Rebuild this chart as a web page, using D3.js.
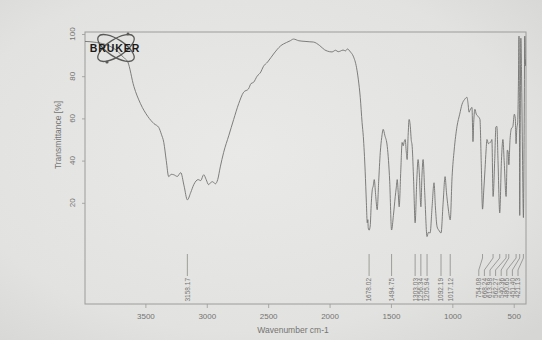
<!DOCTYPE html>
<html>
<head>
<meta charset="utf-8">
<script src="https://cdn.jsdelivr.net/npm/d3@7"></script>
<style>
  body { margin: 0; background: #e2e2e0; }
  svg { display: block; }
  text { font-family: "Liberation Sans", Arial, sans-serif; }
</style>
</head>
<body>
<script>
// spectrum (wavenumber cm-1, transmittance %)
const wavenumbers = [4000, 3900, 3800, 3720, 3680, 3643, 3594, 3540, 3480, 3430, 3391, 3370, 3350, 3330, 3310, 3290, 3269, 3240, 3212, 3185, 3158, 3130, 3106, 3070, 3050, 3025, 3005, 2985, 2970, 2952, 2930, 2911, 2890, 2863, 2820, 2781, 2740, 2700, 2660, 2640, 2619, 2590, 2560, 2540, 2505, 2450, 2400, 2350, 2320, 2294, 2250, 2200, 2160, 2132, 2080, 2040, 2018, 1980, 1950, 1930, 1912, 1890, 1870, 1855, 1830, 1807, 1780, 1766, 1750, 1735, 1725, 1710, 1700, 1693, 1688, 1685, 1678, 1669, 1660, 1652, 1644, 1636, 1625, 1612, 1600, 1587, 1575, 1563, 1550, 1530, 1510, 1495, 1480, 1465, 1457, 1449, 1440, 1433, 1420, 1409, 1400, 1392, 1384, 1375, 1368, 1360, 1352, 1342, 1335, 1327, 1315, 1303, 1290, 1279, 1270, 1256, 1248, 1238, 1225, 1206, 1195, 1181, 1165, 1149, 1138, 1124, 1110, 1092, 1075, 1059, 1048, 1035, 1017, 1002, 985, 962, 940, 921, 900, 881, 872, 864, 855, 840, 835, 832, 826, 816, 805, 791, 775, 765, 754, 744, 734, 725, 718, 706, 694, 685, 678, 668, 655, 645, 637, 628, 614, 600, 588, 578, 562, 552, 545, 540, 530, 520, 507, 495, 487, 481, 475, 468, 462, 457, 454, 451, 447, 442, 436, 429, 421, 415, 410, 405, 400];
const transmittance = [96.5, 96, 94.5, 91.5, 89, 86.7, 75.2, 67, 60.9, 57.5, 55.7, 52.5, 48.6, 40, 32.4, 33.5, 33.3, 32.5, 34.3, 28, 21.4, 25, 28.6, 31, 30.5, 33.3, 31, 28.6, 29.5, 30, 29, 31, 37, 43.8, 52, 59.5, 67, 72.4, 74, 76.5, 77.1, 80, 82, 84.5, 86.7, 91, 94.3, 96, 96.8, 97.6, 96.8, 96.5, 96.3, 96.2, 94.5, 92.5, 91.9, 91.5, 92.3, 91.6, 91.9, 92.4, 92, 92.9, 91.5, 89.5, 84, 78.6, 70, 58, 51.4, 35, 20, 10.5, 12, 8.1, 7, 9, 20, 26.2, 28, 31, 24, 16.7, 30, 43.8, 51, 54.8, 52, 46.7, 30, 7.1, 14, 22.9, 27, 31, 24, 18.1, 35, 48.6, 47, 49, 50, 44, 40.5, 52, 59.5, 56, 50, 46.7, 30, 10.5, 30, 40.5, 35, 18.1, 32, 40.5, 25, 4, 6, 5.7, 18, 29.5, 18, 8.6, 7, 5.7, 20, 32.4, 25, 18.1, 11.9, 32.4, 45, 56.2, 62, 66.7, 69, 70, 67, 62.9, 64, 65.2, 55, 49, 58, 64.3, 62, 61, 59.5, 40, 17, 26, 35.7, 45, 50, 48, 48.6, 49, 50, 23, 40, 56, 56.2, 40, 15.2, 40, 50, 40, 23, 45, 44, 38, 50, 55, 56.2, 62, 60, 48, 55, 58, 75, 99, 70, 14, 55, 98, 80, 45, 13, 55, 99, 85, 88];

const peakWavenumbers = [3158.17, 1678.02, 1494.75, 1303.03, 1256.34, 1205.94, 1092.19, 1017.12, 754.08, 668.24, 613.98, 562.27, 540.36, 480.65, 451.40, 421.13];
const xTicks = [3500, 3000, 2500, 2000, 1500, 1000, 500];
const yTicks = [20, 40, 60, 80, 100];

const W = 542, H = 340;
const box = { left: 85, right: 526, top: 32, bottom: 304 };
const ink = "#747472";

const svg = d3.select("body").append("svg")
    .attr("width", W)
    .attr("height", H);

// paper photo look
const grad = svg.append("defs").append("radialGradient")
    .attr("id", "paper").attr("cx", "45%").attr("cy", "45%").attr("r", "75%");
grad.append("stop").attr("offset", "0%").attr("stop-color", "#e9e9e7");
grad.append("stop").attr("offset", "70%").attr("stop-color", "#e2e2e0");
grad.append("stop").attr("offset", "100%").attr("stop-color", "#d6d6d4");
svg.append("rect").attr("width", W).attr("height", H).attr("fill", "url(#paper)");

svg.append("clipPath").attr("id", "plotclip").append("rect")
    .attr("x", box.left).attr("y", box.top)
    .attr("width", box.right - box.left).attr("height", box.bottom - box.top);

var x = d3.scaleLinear().domain([4000, 400]).range([84, box.right]);
var y = d3.scaleLinear().domain([0, 100]).range([245, 34]);

// x axis
const xAxis = svg.append("g")
    .attr("transform", `translate(0,${box.bottom})`)
    .call(d3.axisBottom(x).tickValues(xTicks).tickSize(4).tickSizeOuter(0).tickPadding(5).tickFormat(d3.format("d")));
xAxis.select(".domain").remove();
xAxis.selectAll("line").attr("stroke", "#a8a8a6");
xAxis.selectAll("text").attr("fill", ink).attr("font-size", "8px");

// y axis, labels turned
const yAxis = svg.append("g")
    .attr("transform", `translate(${box.left},0)`)
    .call(d3.axisLeft(y).tickValues(yTicks).tickSize(3).tickFormat(""));
yAxis.select(".domain").remove();
yAxis.selectAll("line").attr("stroke", "#a8a8a6");

svg.selectAll(".ylab")
    .data(yTicks)
    .enter()
    .append("text")
    .attr("class", "ylab")
    .attr("transform", d => `translate(75,${y(d)}) rotate(-90)`)
    .attr("text-anchor", "middle")
    .attr("font-size", "8px")
    .attr("fill", ink)
    .text(d => d);

// frame
svg.append("rect")
    .attr("x", box.left).attr("y", box.top)
    .attr("width", box.right - box.left).attr("height", box.bottom - box.top)
    .attr("fill", "none")
    .attr("stroke", "#9c9c9a")
    .attr("stroke-width", 1);

// spectrum
const points = wavenumbers.map((w, i) => [w, transmittance[i]]);
const line = d3.line()
    .x(d => x(d[0]))
    .y(d => y(d[1]))
    .curve(d3.curveMonotoneX);

svg.append("path")
    .datum(points)
    .attr("clip-path", "url(#plotclip)")
    .attr("d", line)
    .attr("fill", "none")
    .attr("stroke", "#727270")
    .attr("stroke-width", 0.9);

// peak labels: spread crowded ones to the left
const gap = 5.6;
const labelX = new Array(peakWavenumbers.length);
for (let i = peakWavenumbers.length - 1; i >= 0; i--) {
    const px = x(peakWavenumbers[i]);
    labelX[i] = i === peakWavenumbers.length - 1 ? Math.min(px, 518) : Math.min(px, labelX[i + 1] - gap);
}

const peaks = svg.selectAll(".peak")
    .data(peakWavenumbers)
    .enter()
    .append("g")
    .attr("class", "peak");

peaks.append("path")
    .attr("d", (d, i) => {
        const px = x(d), lx = labelX[i];
        return `M${px},254 L${px},258 L${lx},270 L${lx},276`;
    })
    .attr("fill", "none")
    .attr("stroke", "#8a8a88")
    .attr("stroke-width", 0.8);

peaks.append("text")
    .attr("transform", (d, i) => `translate(${labelX[i] + 2.4},278) rotate(-90)`)
    .attr("text-anchor", "end")
    .attr("font-size", "6.5px")
    .attr("fill", ink)
    .text(d => d3.format(".2f")(d));

// axis titles
svg.append("text")
    .attr("x", 293).attr("y", 333)
    .attr("text-anchor", "middle")
    .attr("font-size", "8.5px")
    .attr("fill", ink)
    .text("Wavenumber cm-1");

svg.append("text")
    .attr("transform", "translate(61,135) rotate(-90)")
    .attr("text-anchor", "middle")
    .attr("font-size", "8.5px")
    .attr("fill", ink)
    .text("Transmittance [%]");

// Bruker logo
const logo = svg.append("g").attr("transform", "translate(116,48)");
[-33, 33].forEach(a => {
    logo.append("ellipse")
        .attr("rx", 21).attr("ry", 8.5)
        .attr("transform", `rotate(${a})`)
        .attr("fill", "none")
        .attr("stroke", "#5a5a58")
        .attr("stroke-width", 1.3);
});
logo.append("circle").attr("cx", -9).attr("cy", 14).attr("r", 1.6).attr("fill", "#5a5a58");
logo.append("circle").attr("cx", 12).attr("cy", -14).attr("r", 1.4).attr("fill", "#5a5a58");
logo.append("text")
    .attr("x", -1).attr("y", 4)
    .attr("text-anchor", "middle")
    .attr("font-size", "10.5px")
    .attr("font-weight", "bold")
    .attr("letter-spacing", "0.9px")
    .attr("fill", "#1a1a1a")
    .text("BRUKER");
</script>
</body>
</html>
